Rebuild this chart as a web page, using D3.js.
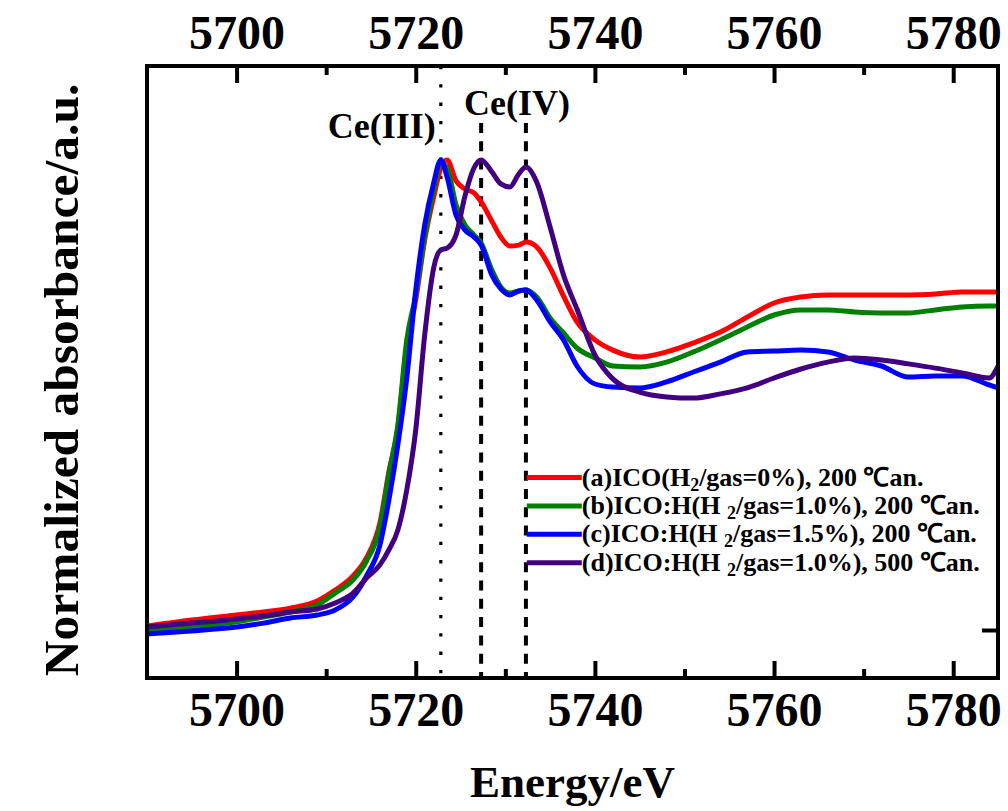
<!DOCTYPE html>
<html>
<head>
<meta charset="utf-8">
<script src="https://cdn.jsdelivr.net/npm/d3@7"></script>
<style>
  body { margin: 0; background: #fff; }
  #chart { width: 1008px; height: 811px; }
  svg text {
    font-family: "Liberation Serif", "Times New Roman", serif;
    font-weight: bold;
    fill: #000;
  }
</style>
</head>
<body>
<div id="chart"></div>
<script>
// XANES Ce L3-edge spectra
const energies = [5690, 5695, 5700, 5703, 5706, 5709, 5711, 5713, 5714.5, 5716, 5717, 5718, 5719, 5720, 5721, 5722,
  5722.8, 5723.5, 5724.5, 5725.5, 5726.5, 5727.3, 5728.5, 5729.5, 5730.5, 5731.5, 5732.3, 5733.5, 5735, 5736.5, 5738,
  5740, 5742, 5745, 5748, 5751, 5754, 5757, 5760, 5763, 5766, 5769, 5772, 5775, 5778, 5781, 5784, 5785];

const seriesA = [0.013, 0.033, 0.050, 0.060, 0.073, 0.097, 0.133, 0.180, 0.240, 0.357, 0.527, 0.673, 0.950, 1.100, 1.300, 1.443,
  1.540, 1.567, 1.497, 1.470, 1.457, 1.427, 1.363, 1.310, 1.280, 1.283, 1.293, 1.277, 1.207, 1.113, 1.027,
  0.967, 0.933, 0.910, 0.927, 0.957, 0.993, 1.043, 1.090, 1.110, 1.117, 1.117, 1.117, 1.117, 1.120, 1.127, 1.127, 1.127];

const seriesB = [0.000, 0.010, 0.027, 0.043, 0.060, 0.083, 0.123, 0.167, 0.230, 0.343, 0.520, 0.683, 0.967, 1.117, 1.310, 1.467,
  1.557, 1.540, 1.417, 1.350, 1.317, 1.290, 1.200, 1.143, 1.123, 1.130, 1.133, 1.110, 1.040, 0.990, 0.940,
  0.907, 0.880, 0.877, 0.893, 0.927, 0.967, 1.010, 1.050, 1.067, 1.067, 1.060, 1.057, 1.057, 1.067, 1.077, 1.080, 1.080];

const seriesC = [-0.013, -0.003, 0.010, 0.023, 0.040, 0.050, 0.067, 0.110, 0.180, 0.283, 0.433, 0.617, 0.840, 1.133, 1.350, 1.490,
  1.567, 1.510, 1.383, 1.333, 1.310, 1.283, 1.183, 1.137, 1.117, 1.130, 1.133, 1.100, 1.027, 0.967, 0.880,
  0.820, 0.810, 0.807, 0.827, 0.860, 0.893, 0.927, 0.930, 0.933, 0.927, 0.900, 0.880, 0.843, 0.847, 0.847, 0.817, 0.807];

const seriesD = [0.010, 0.023, 0.037, 0.047, 0.060, 0.070, 0.090, 0.123, 0.173, 0.217, 0.267, 0.333, 0.467, 0.667, 0.983, 1.207,
  1.267, 1.273, 1.317, 1.447, 1.540, 1.567, 1.527, 1.487, 1.477, 1.520, 1.543, 1.493, 1.343, 1.183, 1.070,
  0.917, 0.837, 0.793, 0.777, 0.773, 0.787, 0.807, 0.840, 0.870, 0.893, 0.907, 0.900, 0.887, 0.873, 0.857, 0.840, 0.880];

const seriesNames = ["a", "b", "c", "d"];
const legendLabels = [
  { pre: "(a)ICO(H", sub: "2", post: "/gas=0%), 200 \u2103an." },
  { pre: "(b)ICO:H(H ", sub: "2", post: "/gas=1.0%), 200 \u2103an." },
  { pre: "(c)ICO:H(H ", sub: "2", post: "/gas=1.5%), 200 \u2103an." },
  { pre: "(d)ICO:H(H ", sub: "2", post: "/gas=1.0%), 500 \u2103an." },
];
const colors = ["#ff0000", "#008000", "#0000ff", "#400080"];

const xMajorTicks = [5700, 5720, 5740, 5760, 5780];
const xMinorTicks = [5710, 5730, 5750, 5770];
const yTicks = [0];

// reference lines: Ce(III) white line and Ce(IV) doublet
const refEnergies = [5722.8, 5727.3, 5732.3];
const refTops = [1.88, 1.69, 1.69];
const refStyles = ["dot", "dash", "dash"];
const peakLabels = [
  { text: "Ce(III)", e: 5716.2, v: 1.64 },
  { text: "Ce(IV)", e: 5731.3, v: 1.717 },
];

const drawChart = () => {
  const width = 1008;
  const height = 811;
  const margin = { top: 66, right: 10, bottom: 133, left: 147 };
  const innerW = width - margin.left - margin.right;
  const innerH = height - margin.top - margin.bottom;

  const svg = d3
    .select("#chart")
    .append("svg")
    .attr("width", width)
    .attr("height", height)
    .append("g")
    .attr("transform", `translate(${margin.left},${margin.top})`);

  const xScale = d3.scaleLinear().domain([5690, 5785]).range([0, innerW]);
  const yScale = d3.scaleLinear().domain([-0.16, 1.88]).range([innerH, 0]);

  // vertical guide lines
  refEnergies.forEach((e, i) => {
    svg
      .append("line")
      .attr("x1", xScale(e))
      .attr("x2", xScale(e))
      .attr("y1", yScale(refTops[i]))
      .attr("y2", innerH)
      .attr("stroke", "#000")
      .attr("stroke-width", refStyles[i] === "dot" ? 3.2 : 4)
      .attr("stroke-dasharray", refStyles[i] === "dot" ? "3.3,15" : "10,8.3");
  });

  svg
    .selectAll(".peak-label")
    .data(peakLabels)
    .enter()
    .append("text")
    .attr("class", "peak-label")
    .attr("x", (d) => xScale(d.e))
    .attr("y", (d) => yScale(d.v))
    .attr("text-anchor", "middle")
    .style("font-size", "36px")
    .text((d) => d.text);

  // spectra
  const line = d3
    .line()
    .x((d) => xScale(d.e))
    .y((d) => yScale(d.v))
    .curve(d3.curveMonotoneX);

  [seriesA, seriesB, seriesC, seriesD].forEach((vals, i) => {
    svg
      .append("path")
      .datum(energies.map((e, j) => ({ e: e, v: vals[j] })))
      .attr("fill", "none")
      .attr("stroke", colors[i])
      .attr("stroke-width", 5)
      .attr("stroke-linejoin", "round")
      .attr("class", "series-" + seriesNames[i])
      .attr("d", line);
  });

  // axes (ticks point inward)
  const fmt = d3.format("d");
  const bottomAxis = d3.axisBottom(xScale).tickValues(xMajorTicks).tickFormat(fmt).tickSizeInner(-17).tickSizeOuter(0).tickPadding(14);
  const bottomMinor = d3.axisBottom(xScale).tickValues(xMinorTicks).tickSizeInner(-9).tickSizeOuter(0).tickFormat("");
  const topAxis = d3.axisTop(xScale).tickValues(xMajorTicks).tickFormat(fmt).tickSizeInner(-17).tickSizeOuter(0).tickPadding(17);
  const topMinor = d3.axisTop(xScale).tickValues(xMinorTicks).tickSizeInner(-9).tickSizeOuter(0).tickFormat("");
  const rightAxis = d3.axisRight(yScale).tickValues(yTicks).tickSizeInner(-16).tickSizeOuter(0).tickFormat("");

  const axes = [
    [bottomAxis, `translate(0,${innerH})`],
    [bottomMinor, `translate(0,${innerH})`],
    [topAxis, "translate(0,0)"],
    [topMinor, "translate(0,0)"],
    [rightAxis, `translate(${innerW},0)`],
  ];
  axes.forEach(([ax, tr]) => {
    const g = svg.append("g").attr("transform", tr).call(ax);
    g.select(".domain").remove();
    g.selectAll("line").attr("stroke", "#000").attr("stroke-width", 4);
    g.selectAll("text").style("font-size", "48px").attr("fill", "#000");
  });

  // frame
  svg
    .append("rect")
    .attr("width", innerW)
    .attr("height", innerH)
    .attr("fill", "none")
    .attr("stroke", "#000")
    .attr("stroke-width", 4);

  // axis titles
  svg
    .append("text")
    .attr("x", innerW / 2)
    .attr("y", innerH + 119)
    .attr("text-anchor", "middle")
    .style("font-size", "45px")
    .text("Energy/eV");

  svg
    .append("text")
    .attr("transform", `translate(${78 - margin.left},${380 - margin.top}) rotate(-90)`)
    .attr("text-anchor", "middle")
    .style("font-size", "49.5px")
    .text("Normalized absorbance/a.u.");

  // legend
  const legend = svg
    .selectAll(".legend")
    .data(legendLabels)
    .enter()
    .append("g")
    .attr("class", "legend")
    .attr("transform", (d, i) => `translate(${xScale(5732.4)},${yScale(0.508 - i * 0.0945)})`);

  legend
    .append("line")
    .attr("x1", 0)
    .attr("x2", 55)
    .attr("stroke", (d, i) => colors[i])
    .attr("stroke-width", 5);

  const label = legend
    .append("text")
    .attr("x", 55)
    .attr("y", 8)
    .style("font-size", "26px");
  label.append("tspan").text((d) => d.pre);
  label.append("tspan").attr("dy", 5).style("font-size", "18px").text((d) => d.sub);
  label.append("tspan").attr("dy", -5).text((d) => d.post);
};

drawChart();
</script>
</body>
</html>
